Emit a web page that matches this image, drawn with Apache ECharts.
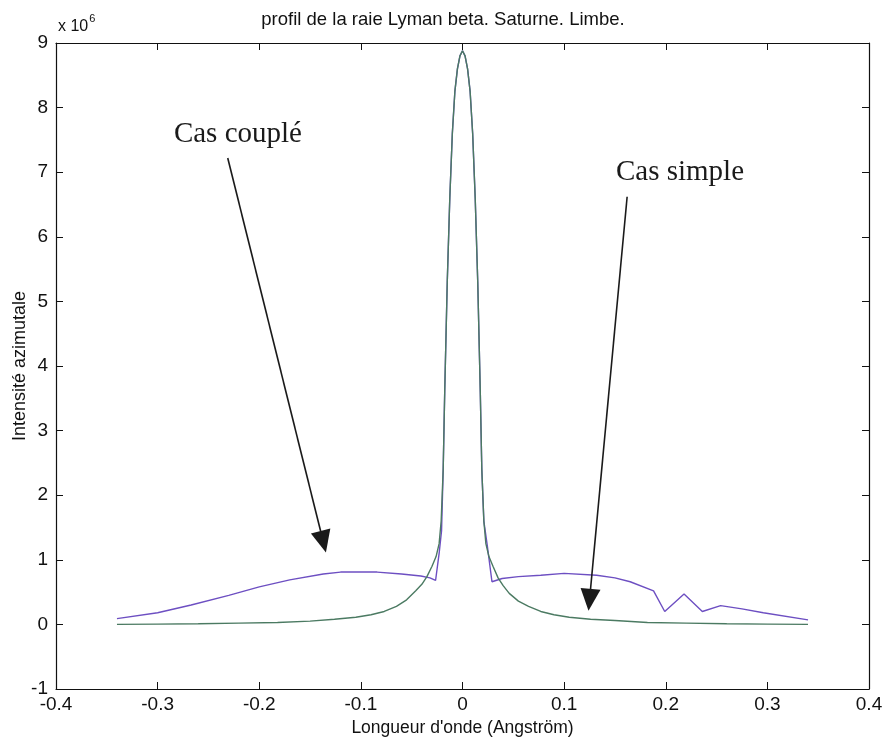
<!DOCTYPE html>
<html>
<head>
<meta charset="utf-8">
<script src="https://cdn.jsdelivr.net/npm/echarts@6/dist/echarts.min.js"></script>
<style>html,body{margin:0;padding:0;background:#fff}#c{width:886px;height:742px}</style>
</head>
<body>
<div id="c"></div>
<script>
// ---- data ----
const titleText = 'profil de la raie Lyman beta. Saturne. Limbe.';
const xName = "Longueur d'onde (Angström)";
const yName = 'Intensité azimutale';
const scaleLabel = 'x 10';
const scaleExp = '6';

// Cas simple (green)
const simpleX = [-0.34,-0.30,-0.26,-0.22,-0.182,-0.15,-0.126,-0.105,-0.09,-0.077,-0.065,-0.055,-0.046,-0.04,-0.035,-0.03,-0.026,-0.023,-0.021,-0.019,-0.0175,-0.015,-0.0125,-0.01,-0.0075,-0.005,-0.0025,0,
  0.0025,0.005,0.0075,0.01,0.0125,0.015,0.0175,0.019,0.021,0.023,0.026,0.03,0.035,0.04,0.046,0.055,0.065,0.077,0.09,0.105,0.126,0.15,0.182,0.22,0.26,0.30,0.34];
const simpleY = [0.00,0.005,0.01,0.02,0.03,0.05,0.08,0.11,0.15,0.20,0.28,0.38,0.52,0.62,0.74,0.90,1.05,1.25,1.6,2.4,3.6,5.3,6.6,7.6,8.25,8.6,8.8,8.88,
  8.8,8.6,8.25,7.6,6.6,5.3,3.6,2.4,1.6,1.25,1.05,0.90,0.72,0.60,0.48,0.36,0.28,0.20,0.15,0.11,0.08,0.06,0.03,0.02,0.01,0.005,0.00];

// Cas couplé (purple)
const coupleX = [-0.34,-0.30,-0.267,-0.23,-0.20,-0.17,-0.137,-0.12,-0.10,-0.084,-0.06,-0.041,-0.032,-0.0265,-0.023,-0.0206,-0.019,-0.0175,-0.015,-0.0125,-0.01,-0.0075,-0.005,-0.0025,0,
  0.0025,0.005,0.0075,0.01,0.0125,0.015,0.0175,0.019,0.021,0.0243,0.029,0.039,0.055,0.077,0.10,0.132,0.150,0.165,0.188,0.199,0.218,0.236,0.254,0.275,0.296,0.34];
const coupleY = [0.09,0.18,0.30,0.45,0.58,0.69,0.78,0.81,0.81,0.81,0.78,0.75,0.72,0.68,1.10,1.45,2.4,3.6,5.3,6.6,7.6,8.25,8.6,8.8,8.88,
  8.8,8.6,8.25,7.6,6.6,5.3,3.6,2.4,1.6,1.23,0.66,0.71,0.74,0.76,0.79,0.76,0.72,0.66,0.52,0.20,0.47,0.20,0.29,0.24,0.18,0.07];

// annotations (data coordinates)
const annoText = ['Cas couplé', 'Cas simple'];
const annoTextX = [-0.221, 0.214];
const annoTextY = [7.58, 7.0];
const arrowFromX = [-0.231, 0.162];
const arrowFromY = [7.22, 6.62];
const arrowToX = [-0.137, 0.125];
const arrowToY = [1.28, 0.38];

const xTicks = {min: -0.4, max: 0.4, interval: 0.1};
const yTicks = {min: -1, max: 9, interval: 1};

// ---- chart ----
const pair = (xs, ys) => xs.map((x, i) => [x, ys[i]]);
const font = 'Liberation Sans, Arial, sans-serif';
const serif = 'Liberation Serif, Times New Roman, serif';

const chart = echarts.init(document.getElementById('c'), null, {renderer: 'canvas'});

const baseX = {
  type: 'value', min: xTicks.min, max: xTicks.max, interval: xTicks.interval,
  splitLine: {show: false},
  axisLine: {show: true, onZero: false, lineStyle: {color: '#111', width: 1.2}},
  axisTick: {show: true, inside: true, length: 7, lineStyle: {color: '#111'}},
};
const baseY = {
  type: 'value', min: yTicks.min, max: yTicks.max, interval: yTicks.interval,
  splitLine: {show: false},
  axisLine: {show: true, onZero: false, lineStyle: {color: '#111', width: 1.2}},
  axisTick: {show: true, inside: true, length: 7, lineStyle: {color: '#111'}},
};

const option = {
  backgroundColor: '#fff',
  animation: false,
  title: [
    {text: titleText, left: 'center', top: 5,
     textStyle: {fontFamily: font, fontSize: 18.5, fontWeight: 'normal', color: '#111'}},
    {text: '{a|' + scaleLabel + '}{b|' + scaleExp + '}', left: 53, top: 8,
     textStyle: {fontWeight: 'normal', rich: {
       a: {fontFamily: font, fontSize: 16, fontWeight: 'normal', color: '#111', verticalAlign: 'bottom', lineHeight: 22},
       b: {fontFamily: font, fontSize: 11, fontWeight: 'normal', color: '#111', verticalAlign: 'top', lineHeight: 22, padding: [0,0,10,1]}
     }}}
  ],
  grid: {left: 56, right: 17, top: 43, bottom: 53, containLabel: false, outerBoundsMode: 'none'},
  xAxis: [
    Object.assign({}, baseX, {
      position: 'bottom',
      name: xName, nameLocation: 'middle', nameGap: 30,
      nameTextStyle: {fontFamily: font, fontSize: 17.5, color: '#111'},
      axisLabel: {show: true, fontFamily: font, fontSize: 19, color: '#111', margin: 6,
        formatter: v => (Math.round(v * 10) / 10).toString()}
    }),
    Object.assign({}, baseX, {position: 'top', axisLabel: {show: false}})
  ],
  yAxis: [
    Object.assign({}, baseY, {
      position: 'left',
      name: yName, nameLocation: 'middle', nameGap: 27, nameRotate: 90, nameMoveOverlap: false,
      nameTextStyle: {fontFamily: font, fontSize: 18, color: '#111'},
      axisLabel: {show: true, fontFamily: font, fontSize: 19, color: '#111', margin: 8}
    }),
    Object.assign({}, baseY, {position: 'right', axisLabel: {show: false}})
  ],
  series: [
    {
      name: 'Cas couplé', type: 'line', xAxisIndex: 0, yAxisIndex: 0,
      data: pair(coupleX, coupleY), showSymbol: false, smooth: false,
      lineStyle: {color: '#6d4fc2', width: 1.4}, z: 2,
      markLine: {
        silent: true, symbol: ['none', 'triangle'], symbolSize: [20, 22],
        lineStyle: {color: '#1a1a1a', width: 1.6, type: 'solid'},
        itemStyle: {color: '#2b332e'},
        label: {show: false},
        data: annoText.map((t, i) => [
          {coord: [arrowFromX[i], arrowFromY[i]]},
          {coord: [arrowToX[i], arrowToY[i]]}
        ])
      },
      markPoint: {
        silent: true, symbol: 'circle', symbolSize: 0,
        label: {show: true, position: 'inside', fontFamily: serif, fontSize: 29, color: '#1a1a1a',
          formatter: p => p.name},
        data: annoText.map((t, i) => ({name: t, coord: [annoTextX[i], annoTextY[i]]}))
      }
    },
    {
      name: 'Cas simple', type: 'line', xAxisIndex: 0, yAxisIndex: 0,
      data: pair(simpleX, simpleY), showSymbol: false, smooth: false,
      lineStyle: {color: '#4b7a62', width: 1.4}, z: 3
    }
  ]
};
chart.setOption(option);
</script>
</body>
</html>
